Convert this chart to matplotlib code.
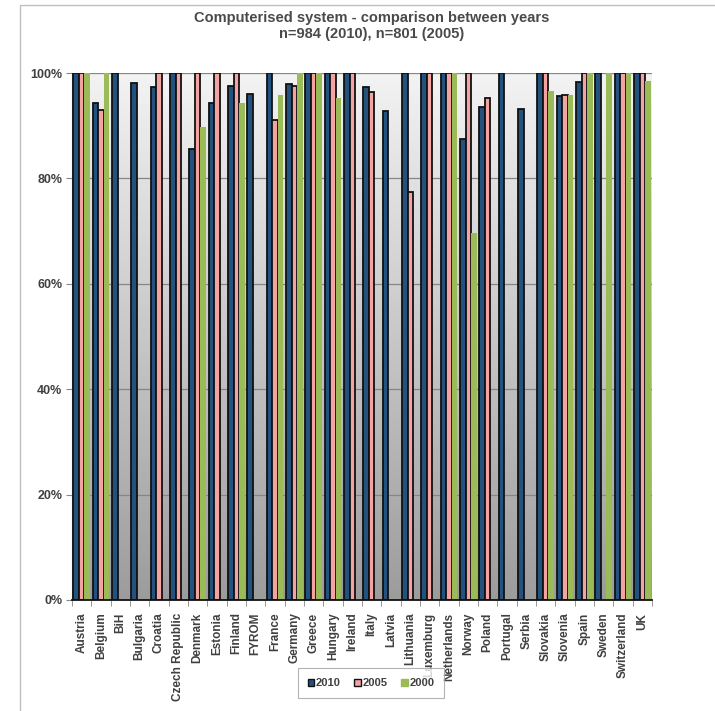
import numpy as np
import matplotlib
matplotlib.use("Agg")
import matplotlib.pyplot as plt
from matplotlib.patches import Patch, Rectangle
from matplotlib.ticker import PercentFormatter
from matplotlib.colors import LinearSegmentedColormap

nan = np.nan
countries = ["Austria", "Belgium", "BiH", "Bulgaria", "Croatia", "Czech Republic",
             "Denmark", "Estonia", "Finland", "FYROM", "France", "Germany", "Greece",
             "Hungary", "Ireland", "Italy", "Latvia", "Lithuania", "Luxemburg",
             "Netherlands", "Norway", "Poland", "Portugal", "Serbia", "Slovakia",
             "Slovenia", "Spain", "Sweden", "Switzerland", "UK"]
v2010 = [100, 94.4, 100, 98.1, 97.3, 100, 85.6, 94.4, 97.5, 96.1, 100, 97.9, 100,
         100, 100, 97.3, 92.8, 100, 100, 100, 87.4, 93.5, 100, 93.2, 100, 95.6,
         98.2, 100, 100, 100]
v2005 = [100, 92.9, nan, nan, 100, 100, 100, 100, 100, nan, 91.1, 97.6, 100,
         100, 100, 96.3, nan, 77.4, 100, 100, 100, 95.3, nan, nan, 100, 95.9,
         100, nan, 100, 100]
v2000 = [100, 100, nan, nan, nan, nan, 89.8, nan, 94.4, nan, 95.8, 100, 100,
         95.2, nan, nan, nan, nan, nan, 100, 69.6, nan, nan, nan, 96.5, 95.8,
         100, 100, 100, 98.5]
series_labels = ["2010", "2005", "2000"]
yticks = [0, 20, 40, 60, 80, 100]
title = "Computerised system - comparison between years\nn=984 (2010), n=801 (2005)"

plt.rcParams['font.family'] = ['Liberation Sans', 'DejaVu Sans']
W, H = 715, 711
fig = plt.figure(figsize=(W / 100, H / 100), dpi=100)

# outer chart border (partially visible)
fig.patches.append(Rectangle((20 / W, -0.1), 1.2, 1 - 5 / H + 0.1, transform=fig.transFigure,
                             fill=False, edgecolor="#bfbfbf", linewidth=1.0))

ax = fig.add_axes([72 / W, 1 - 600 / H, (652 - 72) / W, (600 - 73) / H])

n = len(countries)
x = np.arange(n)
bw = 0.293
colors = ["#24527f", "#f4a3a3", "#9bbb59"]
edges = ["#111111", "#111111", "none"]
data = [v2010, v2005, v2000]
for i, (vals, c, e, lab) in enumerate(zip(data, colors, edges, series_labels)):
    ax.bar(x + (i - 1) * bw, np.array(vals, dtype=float), width=bw, color=c,
           edgecolor=e, linewidth=1.3 if e != "none" else 0, label=lab, zorder=3)

# gradient background (light at top, darker grey at bottom)
grad = np.linspace(0, 1, 256).reshape(-1, 1)
cmap = LinearSegmentedColormap.from_list("bg", ["#f3f3f3", "#9c9c9c"])
ax.imshow(grad, aspect="auto", cmap=cmap, origin="upper",
          extent=(-0.5, n - 0.5, 0, 100), zorder=0)
ax.set_xlim(-0.5, n - 0.5)
ax.set_ylim(0, 100)

ax.set_yticks(yticks)
ax.yaxis.set_major_formatter(PercentFormatter(100, decimals=0))
ax.grid(axis="y", color="#868686", linewidth=0.9, zorder=1)
ax.set_xticks(x)
ax.set_xticklabels(countries, rotation=90, fontsize=8.5, fontweight="bold", color="#404040")
ax.set_xticks(np.arange(n + 1) - 0.5, minor=True)
ax.tick_params(axis="x", which="major", length=0, pad=9)
ax.tick_params(axis="x", which="minor", length=4, color="#868686", direction="out")
ax.tick_params(axis="y", length=4, color="#868686", labelsize=9, labelcolor="#404040", pad=3)
for lbl in ax.get_yticklabels():
    lbl.set_fontweight("bold")

for s in ["top", "right"]:
    ax.spines[s].set_visible(False)
ax.spines["left"].set_color("#868686")
ax.spines["bottom"].set_color("#111111")
ax.spines["bottom"].set_linewidth(1.3)
ax.spines["bottom"].set_zorder(4)

fig.text(372 / W, 1 - 26 / H, title, ha="center", va="center", fontsize=10.5,
         fontweight="bold", color="#4a4a4a", linespacing=1.15)

handles = [Patch(facecolor=colors[i], edgecolor=("#111111" if i < 2 else colors[i]),
                 linewidth=1.0) for i in range(3)]
leg = fig.legend(handles, series_labels, loc="center", ncol=3,
                 bbox_to_anchor=(371 / W, 1 - 683 / H), frameon=True, fancybox=False,
                 edgecolor="#a0a0a0", handlelength=0.6, handleheight=0.6,
                 handletextpad=0.15, columnspacing=1.2, borderpad=0.9,
                 prop={"weight": "bold", "size": 8})
leg.get_frame().set_linewidth(0.8)
for t in leg.get_texts():
    t.set_color("#404040")

fig.savefig("out.png", dpi=100)
